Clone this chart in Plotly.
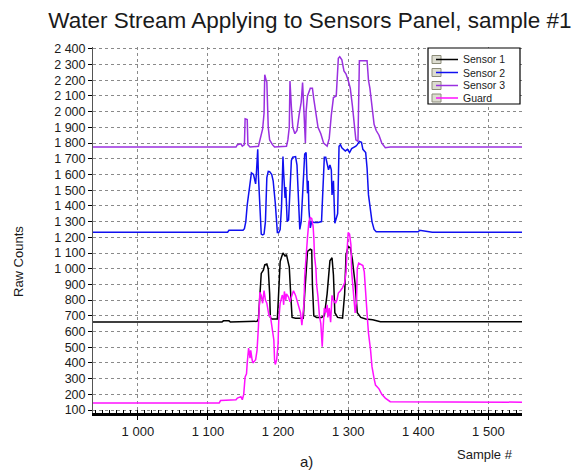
import plotly.graph_objects as go

# ---- data ----
sensor1_x = [936, 1120, 1122, 1130, 1132, 1170, 1172, 1174, 1176, 1179, 1181, 1184, 1186, 1188, 1189, 1191,
             1199, 1201, 1203, 1205, 1207, 1210, 1212, 1214, 1216, 1218, 1220, 1225, 1236, 1238, 1240, 1242,
             1246, 1248, 1249, 1251, 1255, 1262, 1266, 1270, 1274, 1277, 1279, 1281, 1285, 1292, 1295, 1297,
             1300, 1303, 1306, 1310, 1313, 1318, 1325, 1335, 1346, 1548]
sensor1_y = [660, 660, 668, 668, 660, 665, 680, 830, 970, 990, 1025, 1030, 1000, 840, 690, 680,
             680, 860, 1045, 1075, 1100, 1080, 1090, 1050, 1010, 840, 690, 685, 685, 840, 1010, 1110,
             1125, 1120, 900, 700, 690, 690, 700, 840, 1050, 1070, 960, 720, 690, 685, 840, 1090,
             1140, 1135, 1060, 900, 720, 690, 680, 675, 662, 662]

sensor2_x = [936, 1128, 1130, 1150, 1152, 1154, 1156, 1158, 1160, 1162, 1165, 1167, 1168, 1169, 1171,
             1172, 1174, 1176, 1178, 1180, 1182, 1184, 1186, 1188, 1191, 1193, 1196, 1199, 1201, 1203,
             1205, 1207, 1208, 1210, 1211, 1212, 1213, 1215, 1217, 1219, 1221, 1225, 1227, 1229, 1231,
             1233, 1236, 1238, 1240, 1241, 1242, 1243, 1244, 1246, 1248, 1252, 1257, 1262, 1264, 1266,
             1268, 1270, 1272, 1274, 1276, 1277, 1279, 1281, 1283, 1285, 1287, 1289, 1291, 1293, 1296,
             1299, 1302, 1305, 1308, 1311, 1313, 1316, 1319, 1321, 1325, 1327, 1329, 1331, 1334, 1337,
             1340, 1400, 1402, 1420, 1548]
sensor2_y = [1232, 1232, 1245, 1245, 1255, 1300, 1406, 1480, 1565, 1610, 1600, 1560, 1540, 1600, 1760,
             1590, 1380, 1220, 1215, 1220, 1300, 1580, 1620, 1618, 1600, 1560, 1420, 1230, 1230, 1250,
             1400, 1715, 1610, 1450, 1520, 1420, 1300, 1310, 1520, 1690, 1710, 1714, 1660, 1420, 1250,
             1300, 1570, 1730, 1740, 1600, 1480, 1560, 1380, 1260, 1300, 1295, 1295, 1300, 1520, 1710,
             1710, 1670, 1630, 1660, 1630, 1470, 1560, 1290, 1330, 1350, 1780, 1790, 1770, 1760, 1750,
             1760, 1740, 1765, 1770, 1780, 1790, 1810, 1805, 1760, 1740, 1640, 1470, 1400, 1300, 1250,
             1235, 1235, 1245, 1232, 1232]

sensor3_x = [936, 1140, 1142, 1147, 1149, 1152, 1153, 1156, 1157, 1160, 1172, 1175, 1178, 1180, 1181,
             1183, 1184, 1186, 1188, 1192, 1195, 1212, 1214, 1216, 1217, 1219, 1221, 1224, 1227, 1230,
             1233, 1235, 1237, 1239, 1240, 1242, 1246, 1249, 1251, 1254, 1257, 1261, 1265, 1270, 1273,
             1276, 1279, 1283, 1284, 1286, 1288, 1291, 1294, 1297, 1300, 1303, 1306, 1309, 1311, 1314,
             1316, 1327, 1329, 1331, 1334, 1337, 1340, 1344, 1348, 1353, 1360, 1548]
sensor3_y = [1775, 1775, 1790, 1795, 1780, 1790, 1955, 1950, 1790, 1775, 1780, 1830, 1890, 1990, 2235,
             2200, 2190, 1900, 1820, 1790, 1775, 1780, 1820, 1900, 2195, 2030, 1900, 1860, 1880, 1980,
             2060, 2185, 2020, 1800, 2000, 2100, 2150, 2150, 2080, 2000, 1900, 1860, 1800, 1780, 1830,
             1980, 2090, 2100, 2190, 2340, 2350, 2330, 2260, 2240, 2200, 2150, 2040, 1900, 1820, 1810,
             2325, 2325, 2200, 2150, 2040, 1920, 1880, 1850, 1800, 1770, 1775, 1775]

guard_x = [936, 1116, 1118, 1128, 1140, 1142, 1147, 1149, 1151, 1153, 1155, 1156, 1158, 1160, 1161,
           1163, 1164, 1168, 1170, 1172, 1174, 1176, 1178, 1180, 1182, 1184, 1187, 1189, 1192, 1194,
           1195, 1196, 1198, 1200, 1201, 1203, 1206, 1207, 1208, 1209, 1211, 1212, 1215, 1217, 1219,
           1222, 1225, 1227, 1230, 1232, 1234, 1237, 1238, 1240, 1242, 1244, 1246, 1248, 1250, 1251,
           1252, 1254, 1255, 1257, 1259, 1261, 1263, 1264, 1265, 1266, 1268, 1270, 1271, 1273, 1275,
           1277, 1279, 1282, 1284, 1286, 1289, 1292, 1295, 1297, 1298, 1300, 1302, 1304, 1305, 1307,
           1309, 1310, 1312, 1313, 1315, 1318, 1321, 1323, 1325, 1326, 1328, 1329, 1332, 1334, 1337,
           1339, 1344, 1348, 1353, 1356, 1360, 1548]
guard_y = [145, 145, 160, 162, 165, 176, 185, 165, 200, 310, 330, 400, 495, 430, 480,
           420, 400, 420, 480, 630, 850, 830, 780, 860, 800, 780, 700, 700, 600, 546,
           420, 390, 420, 520, 670, 780, 832, 820, 770, 855, 800, 840, 820, 790, 820,
           860, 830, 800, 760, 720, 640, 780, 950, 1100, 1200, 1300, 1325, 1320, 1270, 1200,
           1080, 1000, 900, 820, 700, 650, 503, 600, 700, 750, 720, 770, 690, 750, 660,
           830, 800, 780, 800, 845, 860, 880, 910, 980, 1080, 1230, 1220, 1150, 980, 850,
           780, 718, 800, 1004, 1036, 1025, 1020, 980, 880, 780, 650, 590, 480, 376, 300,
           259, 235, 200, 176, 164, 153, 150]

series_names = ["Sensor 1", "Sensor 2", "Sensor 3", "Guard"]
series_colors = ["#000000", "#1010f0", "#9a30e0", "#ff10ff"]

title_text = "Water Stream Applying to Sensors Panel, sample #1"
y_title = "Raw Counts"
x_title = "Sample #"
panel_label = "a)"

FONT = "Liberation Sans, Arial, sans-serif"
TXT = "#1a1a1a"

fig = go.Figure()
for name, color, xs, ys in zip(series_names, series_colors,
                               [sensor1_x, sensor2_x, sensor3_x, guard_x],
                               [sensor1_y, sensor2_y, sensor3_y, guard_y]):
    fig.add_trace(go.Scatter(x=xs, y=ys, mode="lines", name=name, showlegend=False,
                             line=dict(color=color, width=1.5)))

fig.update_layout(
    width=587, height=470,
    margin=dict(l=93, r=65, t=47, b=57),
    paper_bgcolor="white", plot_bgcolor="white",
    font=dict(family=FONT, size=12, color=TXT),
    separators=". ",
    title=dict(text=title_text, x=0.528, xanchor="center", y=0.957, yanchor="middle",
               xref="container", yref="container",
               font=dict(family=FONT, size=22.5, color=TXT)),
    showlegend=False,
)

fig.update_xaxes(range=[936, 1548], tick0=1000, dtick=100, tickformat=",d",
                 showgrid=True, gridcolor="#8a8a8a", griddash="dot", gridwidth=1,
                 showline=True, linecolor="black", linewidth=3,
                 ticks="outside", ticklen=4, tickcolor="black",
                 minor=dict(dtick=10, ticks="inside", ticklen=3, tickcolor="black", showgrid=False),
                 zeroline=False, tickfont=dict(size=13, color=TXT))
fig.update_yaxes(range=[81, 2412], tick0=100, dtick=100, tickformat=",d",
                 showgrid=True, gridcolor="#8a8a8a", griddash="dot", gridwidth=1,
                 showline=True, linecolor="#555", linewidth=1,
                 ticks="outside", ticklen=4, tickcolor="black",
                 zeroline=False, tickfont=dict(size=12.5, color=TXT))

# ---- compact legend box drawn in paper coordinates ----
plot_l, plot_r, plot_t, plot_b = 93, 522, 47, 413
def px_x(p):
    return (p - plot_l) / (plot_r - plot_l)
def px_y(p):
    return (plot_b - p) / (plot_b - plot_t)

fig.add_shape(type="rect", xref="paper", yref="paper",
              x0=px_x(428), x1=px_x(520), y0=px_y(104), y1=px_y(48),
              line=dict(color="black", width=1.2), fillcolor="white", layer="above")
row_y = [59.5, 72.5, 85.5, 98]
for name, color, ry in zip(series_names, series_colors, row_y):
    fig.add_shape(type="rect", xref="paper", yref="paper",
                  x0=px_x(432), x1=px_x(441), y0=px_y(ry + 4), y1=px_y(ry - 4),
                  line=dict(color="#8c8c7a", width=1), fillcolor="#dcdcd0", layer="above")
    fig.add_shape(type="line", xref="paper", yref="paper",
                  x0=px_x(436), x1=px_x(458), y0=px_y(ry), y1=px_y(ry),
                  line=dict(color=color, width=1.5), layer="above")
    fig.add_annotation(text=name, xref="paper", yref="paper", x=px_x(462), y=px_y(ry),
                       xanchor="left", yanchor="middle", showarrow=False, borderpad=0,
                       font=dict(family=FONT, size=10.5, color=TXT))

fig.add_annotation(text=y_title, xref="paper", yref="paper", x=px_x(18), y=px_y(262),
                   xanchor="center", yanchor="middle",
                   textangle=-90, showarrow=False, font=dict(family=FONT, size=13, color=TXT))
fig.add_annotation(text=x_title, xref="paper", yref="paper", x=px_x(485), y=px_y(455),
                   xanchor="center", yanchor="middle",
                   showarrow=False, font=dict(family=FONT, size=13, color=TXT))
fig.add_annotation(text=panel_label, xref="paper", yref="paper", x=px_x(306), y=px_y(451),
                   xanchor="center", yanchor="top", showarrow=False,
                   font=dict(family=FONT, size=15, color=TXT))

fig.write_html("out.html")
